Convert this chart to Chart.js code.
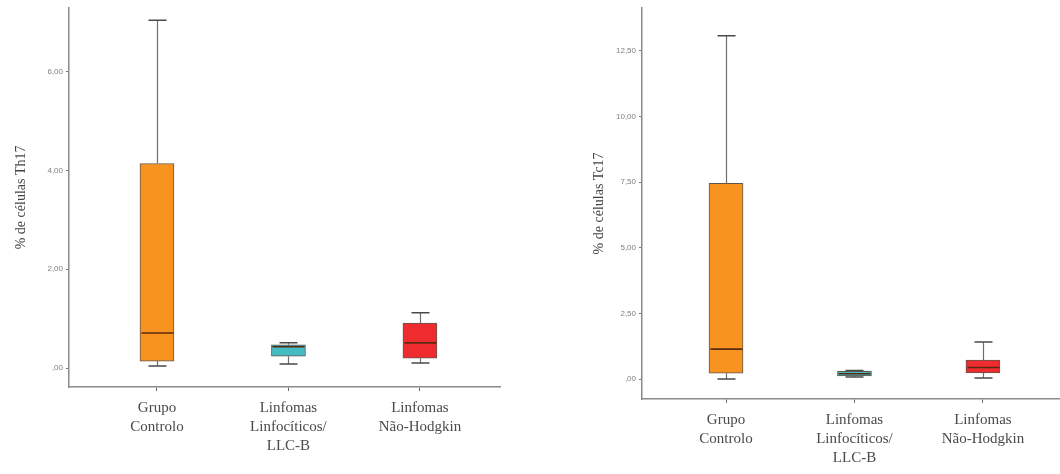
<!DOCTYPE html>
<html>
<head>
<meta charset="utf-8">
<script src="https://cdn.jsdelivr.net/npm/chart.js@4/dist/chart.umd.min.js"></script>
<style>
html,body{margin:0;padding:0;background:#fff;width:1060px;height:474px;overflow:hidden;}
canvas{position:absolute;top:0;}
#c1{left:0;}
#c2{left:560px;}
</style>
</head>
<body>
<canvas id="c1" width="530" height="474"></canvas>
<canvas id="c2" width="500" height="474"></canvas>
<script>
// ---- data ----
const categories = [["Grupo","Controlo"],["Linfomas","Linfocíticos/","LLC-B"],["Linfomas","Não-Hodgkin"]];
const boxColors = ["#F7931E","#45BCC4","#EE2B2F"];

// Th17 (left)
const th17Min = [0.04, 0.08, 0.10];
const th17Q1  = [0.14, 0.24, 0.20];
const th17Med = [0.71, 0.43, 0.51];
const th17Q3  = [4.14, 0.47, 0.91];
const th17Max = [7.04, 0.51, 1.12];
const th17TickValues = [0, 2, 4, 6];
const th17TickLabels = [",00", "2,00", "4,00", "6,00"];

// Tc17 (right)
const tc17Min = [0.00, 0.08, 0.04];
const tc17Q1  = [0.22, 0.12, 0.23];
const tc17Med = [1.14, 0.20, 0.44];
const tc17Q3  = [7.45, 0.29, 0.72];
const tc17Max = [13.08, 0.33, 1.41];
const tc17TickValues = [0, 2.5, 5, 7.5, 10, 12.5];
const tc17TickLabels = [",00", "2,50", "5,00", "7,50", "10,00", "12,50"];

const boxPlugin = {
  id: 'boxwhisk',
  afterDatasetsDraw(chart, args, opts) {
    const ctx = chart.ctx, x = chart.scales.x, y = chart.scales.y;
    ctx.save();
    for (let i = 0; i < opts.min.length; i++) {
      const xp = Math.round(x.getPixelForValue(i + 1)) + 0.5;
      const yMin = y.getPixelForValue(opts.min[i]);
      const yQ1 = y.getPixelForValue(opts.q1[i]);
      const yMed = y.getPixelForValue(opts.med[i]);
      const yQ3 = y.getPixelForValue(opts.q3[i]);
      const yMax = y.getPixelForValue(opts.max[i]);
      ctx.strokeStyle = '#6e6e6e';
      ctx.lineWidth = 1.2;
      ctx.beginPath();
      ctx.moveTo(xp, yQ3); ctx.lineTo(xp, yMax);
      ctx.moveTo(xp, yQ1); ctx.lineTo(xp, yMin);
      ctx.stroke();
      ctx.strokeStyle = '#4a4a4a';
      ctx.lineWidth = 1.5;
      ctx.beginPath();
      ctx.moveTo(xp - 9, yMax); ctx.lineTo(xp + 9, yMax);
      ctx.moveTo(xp - 9, yMin); ctx.lineTo(xp + 9, yMin);
      ctx.stroke();
      ctx.strokeStyle = '#5a2a10';
      ctx.lineWidth = 1.6;
      ctx.beginPath();
      ctx.moveTo(xp - 16, yMed); ctx.lineTo(xp + 16, yMed);
      ctx.stroke();
    }
    ctx.restore();
  }
};

function makeChart(id, q1, q3, stats, yMin, yMax, tickVals, tickLabels, xMin, xMax, yWidth, xHeight, padRight, title, titlePad) {
  const data = q1.map((v, i) => ({ x: i + 1, y: [v, q3[i]] }));
  return new Chart(document.getElementById(id), {
    type: 'bar',
    data: {
      datasets: [{
        data: data,
        backgroundColor: boxColors,
        borderColor: 'rgba(70,55,45,0.85)',
        borderWidth: 1,
        borderSkipped: false,
        barThickness: 34
      }]
    },
    plugins: [boxPlugin],
    options: {
      responsive: false,
      animation: false,
      events: [],
      layout: { padding: { top: 7, right: padRight, left: 0, bottom: 0 } },
      plugins: {
        legend: { display: false },
        tooltip: { enabled: false },
        boxwhisk: stats
      },
      scales: {
        x: {
          type: 'linear',
          offset: false,
          min: xMin, max: xMax,
          afterBuildTicks: s => { s.ticks = categories.map((c, i) => ({ value: i + 1 })); },
          afterFit: s => { s.height = xHeight; },
          grid: { display: true, offset: false, drawOnChartArea: false, drawTicks: true, tickLength: 4, color: '#666', lineWidth: 1 },
          border: { display: true, color: '#8a8a8a', width: 1.5 },
          ticks: {
            autoSkip: false, maxRotation: 0, padding: 8,
            color: '#4a4a4a',
            font: { family: '"Liberation Serif", "DejaVu Serif", serif', size: 15, lineHeight: 1.25 },
            callback: v => categories[Math.round(v) - 1]
          }
        },
        y: {
          type: 'linear',
          min: yMin, max: yMax,
          afterBuildTicks: s => { s.ticks = tickVals.map(v => ({ value: v })); },
          afterFit: s => { s.width = yWidth; },
          grid: { display: true, drawOnChartArea: false, drawTicks: true, tickLength: 3, color: '#777' },
          border: { display: true, color: '#8a8a8a', width: 1.5 },
          ticks: {
            padding: 3, color: '#808080',
            font: { family: '"Liberation Sans", sans-serif', size: 8 },
            callback: v => tickLabels[tickVals.indexOf(v)]
          },
          title: {
            display: true, text: title, color: '#444',
            font: { family: '"Liberation Serif", "DejaVu Serif", serif', size: 14 },
            padding: titlePad
          }
        }
      }
    }
  });
}

makeChart('c1', th17Q1, th17Q3,
  { min: th17Min, q1: th17Q1, med: th17Med, q3: th17Q3, max: th17Max },
  -0.384, 7.293, th17TickValues, th17TickLabels,
  0.331, 3.609, 69, 87, 30, '% de células Th17', { top: 13, bottom: 0 });

makeChart('c2', tc17Q1, tc17Q3,
  { min: tc17Min, q1: tc17Q1, med: tc17Med, q3: tc17Q3, max: tc17Max },
  -0.76, 14.14, tc17TickValues, tc17TickLabels,
  0.346, 3.6, 82, 75, 0, '% de células Tc17', { top: 31, bottom: 0 });
</script>
</body>
</html>
